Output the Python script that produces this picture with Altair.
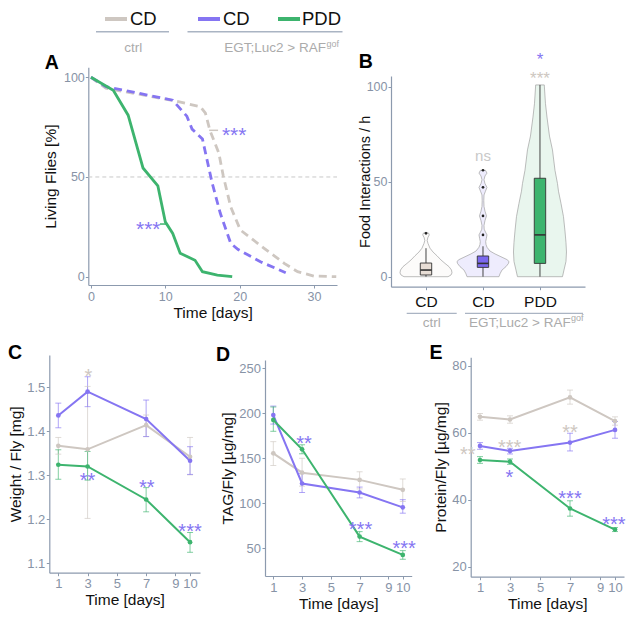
import altair as alt
import pandas as pd

W, H = 620, 607
FONT = "Liberation Sans"
GRAY, PURPLE, GREEN = "#CEC7C1", "#8575F2", "#3DB46E"
AXIS_C, LABEL_C, TEXT_C = "#8C9AAE", "#8793A6", "#111111"
SUB_C, RULE_C = "#ABABAB", "#AAB4C3"
GROUPS = ["ctrl", "egt", "pdd"]
GCOL = [GRAY, PURPLE, GREEN]

# ---------------- data ----------------
# Panel A: survival curves
a_ctrl_day = [0, 2, 10.7, 14.7, 15.4, 16.0, 17.2, 17.8, 18.8, 20.1, 23.3, 26, 27.8, 30, 33]
a_ctrl_val = [100, 94.5, 88.6, 85.3, 82, 73.4, 62, 50.5, 35, 23.4, 14.2, 6.7, 2.5, 0.3, 0]
a_egt_day = [0, 2, 11, 12.9, 13.6, 15, 16.3, 17.4, 18.8, 19.8, 22.8, 26.2]
a_egt_val = [100, 95.3, 88.5, 80.5, 74, 69, 47, 31.8, 16.7, 13.6, 7.5, 2]
a_pdd_day = [0, 3, 5, 7, 9, 10, 11, 12, 14, 15, 17, 19]
a_pdd_val = [100, 93.5, 81, 54.5, 45.5, 27.5, 21.7, 11.8, 8.2, 2.5, 0.8, 0]

# Panel B: violins (value, half width in px) and boxes
b_ctrl_v = [0, 0.9, 2, 3.5, 5.3, 7, 8.8, 11, 13, 15, 17.5, 19, 20.5, 22, 23, 23.4]
b_ctrl_w = [22, 25, 26, 25.5, 23, 19, 15, 11, 7, 4, 2, 1.2, 1.8, 3.3, 2.5, 0]
b_egt_v = [0, 1.5, 3.5, 5.3, 7, 8, 9, 10.5, 12, 13.5, 15.5, 17, 18.5, 20, 22, 23.5, 25, 27,
           29.5, 32, 34.5, 37, 40, 43, 45, 47, 49, 51, 53, 54.5, 56]
b_egt_w = [16, 17, 19, 23, 25.5, 26, 24, 18, 12, 7, 4, 3, 2.7, 3.3, 4, 2.5, 1.2, 1,
           2, 3.5, 2, 1, 0.8, 1, 2.5, 4, 2, 1, 2, 4, 2.5]
b_pdd_v = [0, 3.5, 8, 13, 18, 24, 31.6, 38.6, 45, 49, 56, 66.7, 74, 84, 91, 100.9]
b_pdd_w = [22.5, 24, 26, 26.5, 26, 25, 23.5, 21, 18.5, 17.5, 15, 12.5, 9.5, 7, 5.5, 4.3]
b_pos = [1, 2, 3]
b_q1 = [0.9, 4.9, 7.0]
b_med = [3.5, 7.0, 22.0]
b_q3 = [7.2, 10.9, 51.8]
b_wlo = [0, 0, 0]
b_whi = [15, 16, 100.9]
b_out_pos = [1, 2, 2, 2, 2]
b_out_val = [22.8, 22, 32, 47, 56]
b_box_fill = ["#E8DED6", "#7B68EE", "#3DB46E"]
b_vio_fill = ["#FCFBFA", "#EEECFD", "#E9F6EE"]

# Panels C, D, E
days = [1, 3, 7, 10]
c_mean = [[1.367, 1.359, 1.414, 1.342], [1.436, 1.490, 1.428, 1.333], [1.324, 1.320, 1.245, 1.148]]
c_lo = [[1.348, 1.202, 1.388, 1.301], [1.408, 1.456, 1.388, 1.302], [1.291, 1.289, 1.217, 1.125]]
c_hi = [[1.386, 1.502, 1.437, 1.386], [1.464, 1.524, 1.471, 1.365], [1.358, 1.354, 1.272, 1.170]]
d_mean = [[155.5, 134, 126, 115], [198, 122, 112, 95.5], [192.6, 160, 63, 42.6]]
d_lo = [[142, 119, 116, 102], [188, 112, 106, 89], [180, 155, 57.4, 37.8]]
d_hi = [[168.5, 150, 135, 127], [208, 133, 118, 104], [207, 165, 68.5, 47.4]]
e_mean = [[64.8, 64, 70.6, 63.5], [56.1, 54.6, 57.1, 60.9], [51.9, 51.4, 37.4, 31.1]]
e_lo = [[63.8, 62.9, 68.6, 62.3], [55.1, 53.7, 54.6, 58.4], [50.9, 50.6, 35.1, 30.5]]
e_hi = [[65.8, 65.1, 72.8, 64.8], [57.1, 55.4, 59.9, 63.4], [52.9, 52.2, 39.7, 31.7]]

# significance annotations: x, y, text, colour
a_ann = [(19.27, 73.4, "***", PURPLE), (7.71, 26.4, "***", PURPLE)]
b_ann = [(3, 116.5, "*", PURPLE), (3, 106.5, "***", GRAY)]
c_ann = [(3.05, 1.536, "*", GRAY), (3, 1.299, "**", PURPLE), (7.04, 1.283, "**", PURPLE),
         (10, 1.183, "***", PURPLE)]
d_ann = [(3.13, 172.2, "**", PURPLE), (7.06, 76, "***", PURPLE), (10.1, 55.6, "***", PURPLE)]
e_ann = [(0.18, 54.9, "**", GRAY), (2.97, 57.2, "***", GRAY), (7, 61.6, "**", GRAY),
         (2.96, 48.1, "*", PURPLE), (7, 41.7, "***", PURPLE), (9.93, 34.1, "***", PURPLE)]

# ---------------- helpers ----------------
def sc(d, r):
    return alt.Scale(domain=d, range=r, nice=False, zero=False)


def mkaxis(orient, offset, title, values, **kw):
    base = dict(orient=orient, offset=offset, title=title, values=values, grid=False,
                domainColor=AXIS_C, domainWidth=1.2, tickColor=AXIS_C, tickSize=3, tickWidth=1,
                labelColor=LABEL_C, labelFont=FONT, labelFontSize=13, labelPadding=1.5,
                labelFlush=False, labelOverlap=False,
                titleColor=TEXT_C, titleFont=FONT, titleFontSize=15.5, titleFontWeight=400,
                titlePadding=4)
    base.update(kw)
    return alt.Axis(**base)


class Panel:
    def __init__(self, xd, xr, yd, yr):
        self.xd, self.xr, self.yd, self.yr = xd, xr, yd, yr

    def X(self, f, axis=None):
        return alt.X(f, type="quantitative", scale=sc(self.xd, self.xr), axis=axis)

    def Y(self, f, axis=None):
        return alt.Y(f, type="quantitative", scale=sc(self.yd, self.yr), axis=axis)

    def xaxis(self, title, values, **kw):
        return mkaxis("bottom", self.yr[0] - H, title, values, **kw)

    def yaxis(self, title, values, **kw):
        return mkaxis("left", -self.xr[0], title, values, **kw)


def ann_layer(P, ann, size=20):
    df = pd.DataFrame(ann, columns=["x", "y", "t", "c"])
    return alt.Chart(df).mark_text(font=FONT, fontSize=size, baseline="alphabetic",
                                   align="center", dy=0.57 * size).encode(
        x=P.X("x"), y=P.Y("y"), text="t:N", color=alt.Color("c:N", scale=None))


def vtext(txt, x, y, size, color=TEXT_C, align="left", bold=False, baseline="middle"):
    return alt.Chart(pd.DataFrame({"a": [0]})).mark_text(
        text=txt, font=FONT, fontSize=size, color=color, align=align, baseline=baseline,
        fontWeight="bold" if bold else "normal").encode(x=alt.value(x), y=alt.value(y))


def vrule(x1, x2, y, color, width):
    return alt.Chart(pd.DataFrame({"a": [0]})).mark_rule(color=color, strokeWidth=width).encode(
        x=alt.value(x1), x2=alt.value(x2), y=alt.value(y))


gcol = alt.Color("g:N", scale=alt.Scale(domain=GROUPS, range=GCOL), legend=None)
layers = []

# ---------------- header legend ----------------
layers += [
    vrule(97, 119, 11, GRAY, 4), vtext("CD", 122, 11, 18.5),
    vrule(190, 212, 11, PURPLE, 4), vtext("CD", 215, 11, 18.5),
    vrule(270, 292, 11, GREEN, 4), vtext("PDD", 294, 11, 18.5),
    vrule(88, 161, 23.7, RULE_C, 1.5), vrule(179.5, 334.5, 23.7, RULE_C, 1.5),
    vtext("ctrl", 125.3, 40.3, 13.5, SUB_C, "center"),
    vtext("EGT;Luc2 > RAF", 318, 40.3, 13.5, SUB_C, "right"),
    vtext("gof", 318.5, 35.5, 9, SUB_C, "left"),
]

# ---------------- panel A ----------------
PA = Panel([-0.36, 33.1], [80.3, 329], [-4.17, 105], [277, 59.3])
ref50 = pd.DataFrame({"x": [PA.xd[0]], "x2": [PA.xd[1]], "y": [50]})
layers.append(alt.Chart(ref50).mark_rule(color="#C8C8C8", strokeDash=[4, 3], strokeWidth=1).encode(
    x=PA.X("x", PA.xaxis("Time [days]", [0, 10, 20, 30], labelFontSize=12.5, labelPadding=2, titlePadding=3)),
    x2="x2",
    y=PA.Y("y", PA.yaxis("Living Flies [%]", [0, 50, 100], labelFontSize=12.5, labelPadding=1, titlePadding=5))))
for dd, vv, col, dash in [(a_ctrl_day, a_ctrl_val, GRAY, [8, 5]), (a_egt_day, a_egt_val, PURPLE, [8, 5]),
                          (a_pdd_day, a_pdd_val, GREEN, None)]:
    df = pd.DataFrame({"d": dd, "v": vv})
    mk = dict(color=col, strokeWidth=2.8)
    if dash:
        mk["strokeDash"] = dash
    layers.append(alt.Chart(df).mark_line(**mk).encode(x=PA.X("d"), y=PA.Y("v")))
lead = pd.DataFrame({"x": [15.9, 9.28], "x2": [17.1, 10.2], "y": [73.4, 26.4], "c": [GRAY, GREEN]})
layers.append(alt.Chart(lead).mark_rule(strokeWidth=1.5).encode(
    x=PA.X("x"), x2="x2", y=PA.Y("y"), color=alt.Color("c:N", scale=None)))
layers.append(ann_layer(PA, a_ann, 21))

# ---------------- panel B ----------------
PB = Panel([0.386, 3.79], [383, 577], [-5.26, 105.6], [278.7, 68])
for i, (vals, ws) in enumerate([(b_ctrl_v, b_ctrl_w), (b_egt_v, b_egt_w), (b_pdd_v, b_pdd_w)]):
    c = b_pos[i]
    df = pd.DataFrame({"v": vals, "lo": [c - w / 57 for w in ws], "hi": [c + w / 57 for w in ws]})
    enc = dict(y=PB.Y("v"), x=PB.X("lo"), x2="hi")
    if i == 0:
        enc["y"] = PB.Y("v", PB.yaxis("Food Interactions / h", [0, 50, 100], labelFontSize=12.5,
                                     labelPadding=1, titlePadding=-6, titleFontSize=14.5))
        enc["x"] = PB.X("lo", PB.xaxis(None, [1, 2, 3], labelExpr="datum.value == 3 ? 'PDD' : 'CD'",
                                       labelColor=TEXT_C, labelFontSize=15.5, labelPadding=5))
    layers.append(alt.Chart(df).mark_area(orient="horizontal", fill=b_vio_fill[i], stroke="#A0A0A0",
                                          strokeWidth=0.7).encode(**enc))
box = pd.DataFrame({"p": b_pos, "q1": b_q1, "med": b_med, "q3": b_q3, "wlo": b_wlo, "whi": b_whi,
                    "pl": [p - 0.1 for p in b_pos], "pr": [p + 0.1 for p in b_pos], "f": b_box_fill})
layers.append(alt.Chart(box).mark_rule(color="#444444", strokeWidth=1).encode(
    x=PB.X("p"), y=PB.Y("wlo"), y2="whi"))
layers.append(alt.Chart(box).mark_rect(stroke="#333333", strokeWidth=0.9).encode(
    x=PB.X("pl"), x2="pr", y=PB.Y("q1"), y2="q3", fill=alt.Fill("f:N", scale=None)))
layers.append(alt.Chart(box).mark_rule(color="#333333", strokeWidth=1.6).encode(
    x=PB.X("pl"), x2="pr", y=PB.Y("med")))
outl = pd.DataFrame({"p": b_out_pos, "v": b_out_val})
layers.append(alt.Chart(outl).mark_point(filled=True, color="#222222", size=7, opacity=1).encode(
    x=PB.X("p"), y=PB.Y("v")))
layers.append(ann_layer(PB, b_ann, 17))
ns = pd.DataFrame({"x": [2], "y": [63.5], "t": ["ns"]})
layers.append(alt.Chart(ns).mark_text(font=FONT, fontSize=15, color="#C8C8C8", baseline="middle").encode(
    x=PB.X("x"), y=PB.Y("y"), text="t:N"))
layers += [
    vrule(398.7, 448.7, 305.3, RULE_C, 1.3), vrule(457, 575, 305.3, RULE_C, 1.3),
    vtext("ctrl", 423.7, 314.7, 13.5, SUB_C, "center"),
    vtext("EGT;Luc2 > RAF", 562.7, 314.7, 13.5, SUB_C, "right"),
    vtext("gof", 563, 310, 9, SUB_C, "left"),
]


# ---------------- panels C, D, E ----------------
def line_panel(P, means, los, his, ytitle, yvals, yfmt, ann):
    rows = []
    for g, m, lo, hi in zip(GROUPS, means, los, his):
        for d, a, b, c in zip(days, m, lo, hi):
            rows.append(dict(day=d, v=a, lo=b, hi=c, g=g))
    df = pd.DataFrame(rows)
    base = alt.Chart(df)
    out = [
        base.mark_rule(strokeWidth=1, opacity=0.65).encode(
            x=P.X("day", P.xaxis("Time [days]", [1, 3, 5, 7, 9, 10], labelPadding=2, titlePadding=2)),
            y=P.Y("lo", P.yaxis(ytitle, yvals, format=yfmt, labelPadding=1.5, titlePadding=3.5)),
            y2="hi", color=gcol),
        base.mark_tick(orient="horizontal", size=6, thickness=1, opacity=0.65).encode(
            x=P.X("day"), y=P.Y("lo"), color=gcol),
        base.mark_tick(orient="horizontal", size=6, thickness=1, opacity=0.65).encode(
            x=P.X("day"), y=P.Y("hi"), color=gcol),
        base.mark_line(strokeWidth=2).encode(x=P.X("day"), y=P.Y("v"), color=gcol),
        base.mark_point(filled=True, size=22, opacity=1).encode(x=P.X("day"), y=P.Y("v"), color=gcol),
        ann_layer(P, ann, 20),
    ]
    return out


PC = Panel([0.385, 10.68], [41.3, 192], [1.0786, 1.5734], [564.7, 347])
PD = Panel([0.423, 10.62], [257, 403.7], [19.2, 259.2], [568, 352])
PE = Panel([0.38, 10.6], [462.7, 616], [17.0, 82.6], [568.7, 349.3])
layers += line_panel(PC, c_mean, c_lo, c_hi, "Weight / Fly [mg]", [1.1, 1.2, 1.3, 1.4, 1.5], ".1f", c_ann)
layers += line_panel(PD, d_mean, d_lo, d_hi, "TAG/Fly [µg/mg]", [50, 100, 150, 200, 250], "d", d_ann)
layers += line_panel(PE, e_mean, e_lo, e_hi, "Protein/Fly [µg/mg]", [20, 40, 60, 80], "d", e_ann)

# ---------------- panel letters ----------------
for t, x, y in [("A", 43.7, 54.5), ("B", 357.7, 53.7), ("C", 7, 345), ("D", 215, 347), ("E", 428, 345)]:
    layers.append(vtext(t, x, y, 19.5, "#000000", "center", bold=True))

chart = alt.layer(*layers).resolve_scale(x="independent", y="independent").properties(
    width=W, height=H, padding=0, autosize=alt.AutoSizeParams(type="none")
).configure_view(stroke=None)

chart.save("out.html", embed_options={"renderer": "svg", "actions": False})
